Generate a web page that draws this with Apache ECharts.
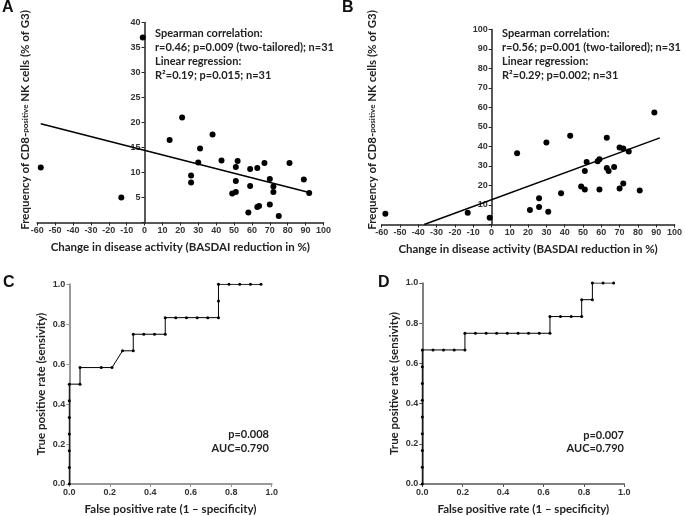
<!DOCTYPE html>
<html><head><meta charset="utf-8">
<script src="https://cdn.jsdelivr.net/npm/echarts@6/dist/echarts.min.js"></script>
<style>html,body{margin:0;padding:0;background:#fff}#c{width:685px;height:516px}</style>
</head><body><div id="c"></div>
<script>
// Panel A
const basdaiA = [-58,-13,-1,14,21,26,26,30,31,38,43,49,51,51,51,52,58,59,59,63,64,63,67,70,70,72,72,75,81,89,92];
const cd8A    = [11,5,37,16.5,21,9.4,8,12,14.8,17.6,12.4,5.8,6.1,8.3,11.1,12.3,2,7.3,10.7,3.1,3.3,10.9,11.9,8.7,3.6,7.2,6.1,1.3,11.9,8.6,5.9];
const regA = [-0.0917, 14.44];       // slope, intercept
const regRangeA = [-58, 92];
const statsA = ['Spearman correlation:', 'r=0.46; p=0.009 (two-tailored); n=31', 'Linear regression:', 'R²=0.19; p=0.015; n=31'];
// Panel B
const basdaiB = [-58,-13,-1,14,21,26,26,30,31,38,43,49,51,51,52,58,59,59,63,63,64,67,70,70,72,72,75,81,89];
const cd8B    = [5.5,6,3.5,36.5,7.5,13.5,9,42,6.5,16,45.5,19.5,27.5,18,32,32.5,33.5,18,44.5,29,27.5,29.5,39.5,18.5,39,21,37.5,17.5,57.5];
const regB = [0.345, 12.7];
const regRangeB = [-36.8, 92];
const statsB = ['Spearman correlation:', 'r=0.56; p=0.001 (two-tailored); n=31', 'Linear regression:', 'R²=0.29; p=0.002; n=31'];
// Panel C (ROC)
const fprC = [0,0,0,0,0,0,0,0.053,0.053,0.158,0.211,0.263,0.316,0.316,0.368,0.421,0.474,0.474,0.526,0.579,0.632,0.684,0.737,0.737,0.737,0.789,0.842,0.895,0.947];
const tprC = [0,0.083,0.167,0.25,0.333,0.417,0.5,0.5,0.583,0.583,0.583,0.667,0.667,0.75,0.75,0.75,0.75,0.833,0.833,0.833,0.833,0.833,0.833,0.917,1,1,1,1,1];
const statsC = ['p=0.008', 'AUC=0.790'];
// Panel D (ROC)
const fprD = [0,0,0,0,0,0,0,0,0,0.053,0.105,0.158,0.211,0.211,0.263,0.316,0.368,0.421,0.474,0.526,0.579,0.632,0.632,0.684,0.737,0.789,0.789,0.842,0.842,0.895,0.947];
const tprD = [0,0.083,0.167,0.25,0.333,0.417,0.5,0.583,0.667,0.667,0.667,0.667,0.667,0.75,0.75,0.75,0.75,0.75,0.75,0.75,0.75,0.75,0.833,0.833,0.833,0.833,0.917,0.917,1,1,1];
const statsD = ['p=0.007', 'AUC=0.790'];
const panelLetters = ['A','B','C','D'];

const FONT = 'Lato';
const TXT = '#222';
const zip = (a, b) => a.map((v, i) => [v, b[i]]);
const regLine = (r, rng) => rng.map(x => [x, r[0] * x + r[1]]);

const tickLbl = {fontSize: 9, fontWeight: 'bold', fontFamily: 'Liberation Sans', color: '#333', margin: 4};
const nameStyle = {fontSize: 11.5, fontWeight: 'bold', fontFamily: FONT, color: TXT};
const richName = {
  a: {fontSize: 11.5, fontWeight: 'bold', fontFamily: FONT, fill: TXT},
  b: {fontSize: 8, fontWeight: 'bold', fontFamily: FONT, fill: TXT}
};
const yNameFreq = '{a|Frequency of CD8-}{b|positive}{a| NK cells (% of G3)}';

const grids = [
  {left: 37.2, right: 361.5, top: 22.5, bottom: 293.5},
  {left: 381.7, right: 10, top: 29.5, bottom: 291.5},
  {left: 69.3, right: 413.3, top: 284.3, bottom: 31},
  {left: 422.3, right: 60.7, top: 283, bottom: 31.7}
];
const X_MIN = -60, X_MAX = 100;
// horizontal distance from the grid's left edge to x = 0 (where the y axis sits)
const zeroOffset = g => (685 - g.left - g.right) * (0 - X_MIN) / (X_MAX - X_MIN);

function scatterX(gi) {
  return {gridIndex: gi, type: 'value', min: X_MIN, max: X_MAX, interval: 10,
    splitLine: {show: false},
    axisLine: {onZero: false, lineStyle: {color: '#222', width: 1.5}},
    axisTick: {length: 3, lineStyle: {color: '#222'}},
    axisLabel: tickLbl,
    name: 'Change in disease activity (BASDAI reduction in %)', nameLocation: 'middle', nameGap: 19,
    nameTextStyle: nameStyle};
}
function scatterY(gi, max, interval) {
  return {gridIndex: gi, type: 'value', min: 0, max: max, interval: interval,
    offset: -zeroOffset(grids[gi]),
    splitLine: {show: false},
    axisLine: {onZero: false, lineStyle: {color: '#222', width: 1.5}},
    axisTick: {length: 3, lineStyle: {color: '#222'}},
    axisLabel: Object.assign({}, tickLbl, {formatter: v => v === 0 ? '' : String(v)})};
}
function rocX(gi, col, w) {
  return {gridIndex: gi, type: 'value', min: 0, max: 1, interval: 0.2,
    splitLine: {show: false},
    axisLine: {lineStyle: {color: col, width: w}},
    axisTick: {length: 3, lineStyle: {color: col}},
    axisLabel: Object.assign({}, tickLbl, {formatter: v => v.toFixed(1)}),
    name: 'False positive rate (1 – specificity)', nameLocation: 'middle', nameGap: 19,
    nameTextStyle: nameStyle};
}
function rocY(gi, col, w) {
  return {gridIndex: gi, type: 'value', min: 0, max: 1, interval: 0.2,
    splitLine: {show: false},
    axisLine: {lineStyle: {color: col, width: w}},
    axisTick: {length: 3, lineStyle: {color: col}},
    axisLabel: Object.assign({}, tickLbl, {formatter: v => v.toFixed(1)}),
    name: 'True positive rate (sensivity)', nameLocation: 'middle', nameRotate: 90, nameGap: 22,
    nameTextStyle: nameStyle};
}

function statText(lines, x, ys, align) {
  return lines.map((t, i) => ({type: 'text', x: x, y: ys[i],
    style: {text: t, fill: TXT, font: 'bold 11px ' + FONT, align: align, verticalAlign: 'middle'}}));
}
function yName(x, y) {
  return {type: 'text', x: x, y: y, rotation: Math.PI / 2,
    style: {text: yNameFreq, rich: richName, align: 'center', verticalAlign: 'middle'}};
}
const letterPos = [[2, 8], [342, 8], [3, 283], [378, 283]];
const letters = panelLetters.map((l, i) => ({type: 'text', x: letterPos[i][0], y: letterPos[i][1],
  style: {text: l, fill: '#111', font: 'bold 16px "Liberation Sans"', align: 'left', verticalAlign: 'middle'}}));

const option = {
  animation: false,
  backgroundColor: '#fff',
  grid: grids,
  xAxis: [scatterX(0), scatterX(1), rocX(2, '#999', 2), rocX(3, '#555', 1.5)],
  yAxis: [scatterY(0, 40, 5), scatterY(1, 100, 10), rocY(2, '#999', 2), rocY(3, '#555', 1.5)],
  series: [
    {type: 'scatter', xAxisIndex: 0, yAxisIndex: 0, data: zip(basdaiA, cd8A), symbolSize: 6, itemStyle: {color: '#000', opacity: 1}},
    {type: 'line', xAxisIndex: 0, yAxisIndex: 0, data: regLine(regA, regRangeA), showSymbol: false, lineStyle: {color: '#000', width: 1.5}},
    {type: 'scatter', xAxisIndex: 1, yAxisIndex: 1, data: zip(basdaiB, cd8B), symbolSize: 6, itemStyle: {color: '#000', opacity: 1}},
    {type: 'line', xAxisIndex: 1, yAxisIndex: 1, data: regLine(regB, regRangeB), showSymbol: false, lineStyle: {color: '#000', width: 1.5}},
    {type: 'line', xAxisIndex: 2, yAxisIndex: 2, data: zip(fprC, tprC), symbol: 'circle', symbolSize: 3, showAllSymbol: true,
      itemStyle: {color: '#000'}, lineStyle: {color: '#000', width: 1}},
    {type: 'line', xAxisIndex: 3, yAxisIndex: 3, data: zip(fprD, tprD), symbol: 'circle', symbolSize: 3, showAllSymbol: true,
      itemStyle: {color: '#000'}, lineStyle: {color: '#000', width: 1}}
  ],
  graphic: [].concat(
    statText(statsA, 155, [33, 47, 61, 75], 'left'),
    statText(statsB, 502, [33, 47, 61, 75], 'left'),
    statText(statsC, 269, [434, 448], 'right'),
    statText(statsD, 624, [435, 448], 'right'),
    [yName(25, 120), yName(372, 120)],
    letters
  )
};
const chart = echarts.init(document.getElementById('c'), null, {renderer: 'canvas'});
chart.setOption(option);
</script>
</body></html>
